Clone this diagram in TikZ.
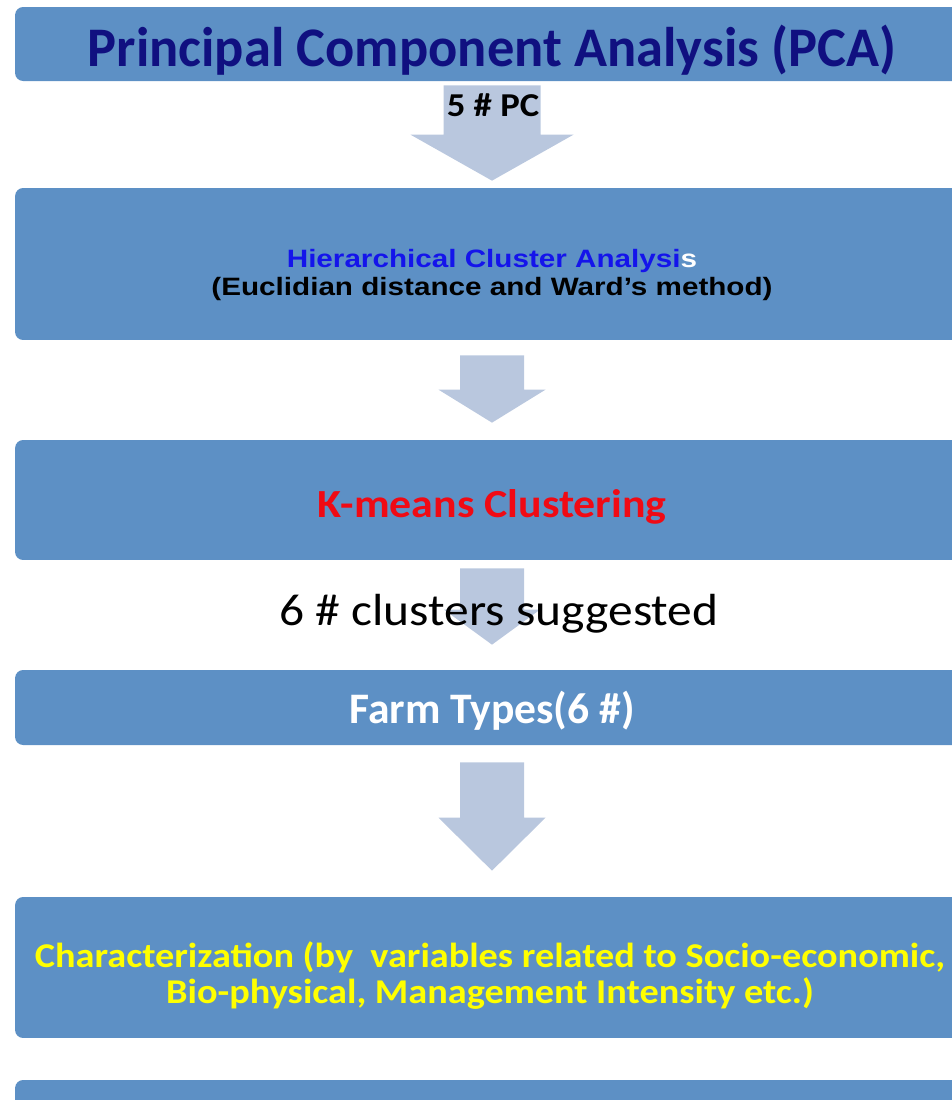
\documentclass[tikz,border=0pt]{standalone}
\usepackage{fontspec}
\setmainfont{Carlito}
\newfontfamily\widecalibri[FakeStretch=1.1]{Carlito}
\newfontfamily\narrowcalibri[FakeStretch=0.975]{Carlito}
\newfontfamily\arialfont[FakeStretch=1.18]{Liberation Sans}
\usetikzlibrary{calc}
\definecolor{boxblue}{RGB}{93,144,197}
\definecolor{arrowgrey}{RGB}{185,199,222}
\definecolor{titlenavy}{RGB}{16,16,128}
\definecolor{hcablue}{RGB}{20,20,235}
\definecolor{kred}{RGB}{240,10,20}
\definecolor{charyellow}{RGB}{255,255,0}
\tikzset{
  box/.style={fill=boxblue, rounded corners=0.16cm, minimum width=19.08cm, inner sep=0pt},
  boxtext/.style={inner sep=0pt, align=center},
  arrowfill/.style={fill=arrowgrey},
}
% from, to, top gap, bottom gap, shaft half, head half, head length
\newcommand{\fatarrow}[7]{%
  \fill[arrowfill] ($(#1.south)+(-#5,#3)$) -- ($(#1.south)+(#5,#3)$)
    -- ($(#2.north)+(#5,-#4-#7)$) -- ($(#2.north)+(#6,-#4-#7)$)
    -- ($(#2.north)+(0,-#4)$)
    -- ($(#2.north)+(-#6,-#4-#7)$) -- ($(#2.north)+(-#5,-#4-#7)$) -- cycle;}

\begin{document}
\begin{tikzpicture}[x=0.02cm,y=-0.02cm]
  \useasboundingbox (0,0) rectangle (952,1100);
  \clip (0,0) rectangle (952,1100);
  \node[box, minimum height=1.48cm] (pca) at (492,44) {};
  \node[box, minimum height=3.04cm] (hca) at (492,264) {};
  \node[box, minimum height=2.4cm] (kmeans) at (492,500) {};
  \node[box, minimum height=1.5cm] (farm) at (492,707.5) {};
  \node[box, minimum height=2.82cm] (char) at (492,967.5) {};
  \node[box, minimum height=1.2cm] (next) at (492,1110) {};

  \node[boxtext, text=titlenavy, font=\narrowcalibri\bfseries\fontsize{31.8}{36}\selectfont] (pcatxt) at ($(pca)+(0,6)$) {Principal Component Analysis (PCA)};
  \node[boxtext, font=\arialfont\bfseries\fontsize{14.3}{16.5}\selectfont] (hcatxt) at ($(hca)+(0,11)$)
    {\textcolor{hcablue}{Hierarchical Cluster Analysi}\textcolor{white}{s}\\(Euclidian distance and Ward’s method)};
  \node[boxtext, text=kred, font=\widecalibri\bfseries\fontsize{22.7}{26}\selectfont] (kmeanstxt) at ($(kmeans)+(0,7)$) {K-means Clustering};
  \node[boxtext, text=white, font=\bfseries\fontsize{24.8}{28}\selectfont] (farmtxt) at ($(farm)+(0,3)$) {Farm Types(6 \#)};
  \node[boxtext, text=charyellow, font=\widecalibri\bfseries\fontsize{19.8}{20}\selectfont] (chartxt) at ($(char)+(-2,8)$)
    {Characterization (by~ variables related to Socio-economic,\\Bio-physical, Management Intensity etc.)};

  \fatarrow{pca}{hca}{4}{7}{48.5}{81.5}{46}
  \fatarrow{hca}{kmeans}{15}{17}{32}{53.5}{33}
  \fatarrow{kmeans}{farm}{8}{25}{32}{48}{35}
  \fatarrow{farm}{char}{17}{26}{32}{53.5}{53}

  \node[anchor=base, font=\widecalibri\bfseries\fontsize{19}{22}\selectfont] (pc) at (493,116) {5 \# PC};
  \node[anchor=base, font=\widecalibri\fontsize{25.6}{30}\selectfont] (sugg) at (499,625) {6 \# clusters suggested};
\end{tikzpicture}
\end{document}
